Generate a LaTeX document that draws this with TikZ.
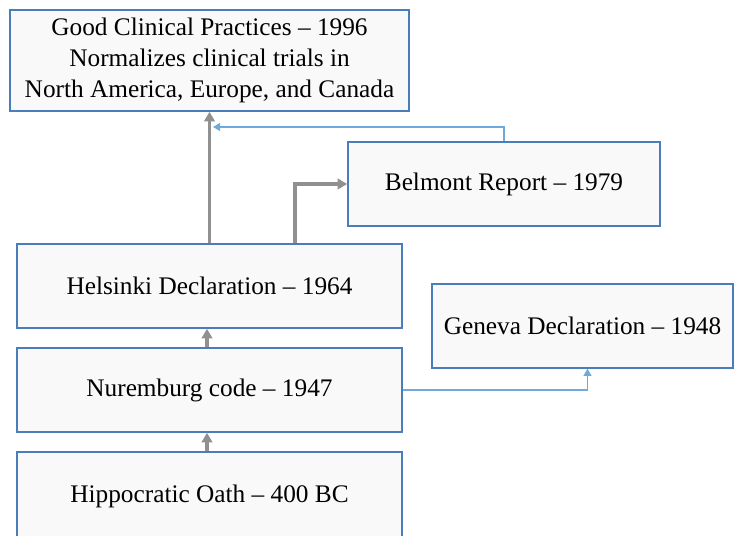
\documentclass[tikz,border=0pt]{standalone}
\usepackage{fontspec}
\setmainfont{Liberation Serif}
\usetikzlibrary{arrows.meta}
\definecolor{boxline}{RGB}{74,126,187}
\definecolor{boxfill}{RGB}{249,249,249}
\definecolor{flowgray}{RGB}{144,144,144}
\definecolor{flowblue}{RGB}{110,170,222}

\begin{document}
\begin{tikzpicture}[x=0.02cm,y=-0.02cm,
    event/.style={rectangle,draw=boxline,fill=boxfill,line width=0.9pt,inner sep=0pt,
        minimum width=7.7cm,minimum height=1.68cm,font=\fontsize{14.4}{17.5}\selectfont},
    mainflow/.style={draw=flowgray,line width=1.8pt,-{Triangle[length=5.5pt,width=6pt]}},
    sideflow/.style={draw=flowblue,line width=0.6pt,-{Triangle[length=4pt,width=4.5pt]}}]
                \useasboundingbox (0,0) rectangle (734,536);
                \node (gcp) at (209.5,60.5) [event,minimum width=7.98cm,minimum height=2.02cm,align=center]
                    {Good Clinical Practices – 1996\\Normalizes clinical trials in\\North America, Europe, and Canada};
                \node (bel) at (504,184) [event,minimum width=6.24cm] {Belmont Report – 1979};
                \node (hel) at (209.5,286) [event] {Helsinki Declaration – 1964};
                \node (gen) at (582.5,326) [event,minimum width=6.02cm] {Geneva Declaration – 1948};
                \node (nur) at (209.5,390) [event] {Nuremburg code – 1947};
                \node (hip) at (209.5,496) [event,minimum height=1.76cm] {Hippocratic Oath – 400 BC};

                \coordinate (gcpjoin) at (213,127);

                \draw[mainflow] (hel.north) -- (gcp.south);
                \draw[mainflow] ([xshift=1.71cm]hel.north) |- (bel.west);
                \draw[sideflow] (bel.north) |- (gcpjoin);
                \draw[mainflow] ([xshift=-0.05cm]nur.north) -- ([xshift=-0.05cm]hel.south);
                \draw[mainflow] ([xshift=-0.05cm]hip.north) -- ([xshift=-0.05cm]nur.south);
                \draw[sideflow] (nur.east) -| ([xshift=0.1cm]gen.south);
            \end{tikzpicture}
\end{document}
